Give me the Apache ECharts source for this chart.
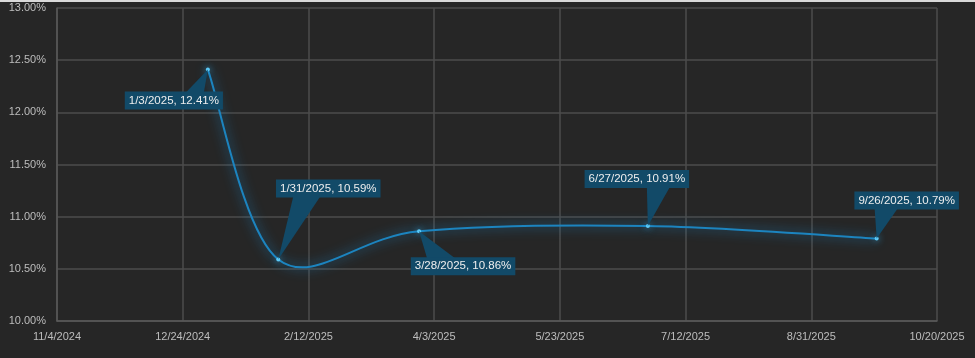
<!DOCTYPE html>
<html>
<head>
<meta charset="utf-8">
<style>
  html, body { margin: 0; padding: 0; background: #262626; }
  body { border-top: 2px solid #d9d9d9; box-sizing: border-box; }
  #chart { width: 975px; height: 356px; }
</style>
<script src="https://cdn.jsdelivr.net/npm/echarts@6/dist/echarts.min.js"></script>
</head>
<body>
<div id="chart"></div>
<script>
// ---- data ----
const dates = ['1/3/2025', '1/31/2025', '3/28/2025', '6/27/2025', '9/26/2025'];
const values = [12.41, 10.59, 10.86, 10.91, 10.79];
const xStart = '11/4/2024';
const xTickStepDays = 50;
const xEndDays = 350;
const yMin = 10, yMax = 13, yStep = 0.5;

// ---- callout styling (offsets in px relative to the point) ----
const calloutStyle = [
  { dx: -34, dy: 31, w0: -22, w1: -4 },
  { dx: 50, dy: -71, w0: 15, w1: 42 },
  { dx: 44, dy: 35, w0: 8, w1: 36 },
  { dx: -11, dy: -47, w0: -1, w1: 22 },
  { dx: 30, dy: -38, w0: -2, w1: 21 }
];

function parseMDY(s) {
  const [m, d, y] = s.split('/').map(Number);
  return Date.UTC(y, m - 1, d);
}
const DAY = 86400000;
const t0 = parseMDY(xStart);
function toDays(s) { return Math.round((parseMDY(s) - t0) / DAY); }
function fmtDay(v) {
  const dt = new Date(t0 + v * DAY);
  return (dt.getUTCMonth() + 1) + '/' + dt.getUTCDate() + '/' + dt.getUTCFullYear();
}

const points = dates.map((d, i) => [toDays(d), values[i]]);
const labels = dates.map((d, i) => d + ', ' + values[i].toFixed(2) + '%');

const chart = echarts.init(document.getElementById('chart'), null, { renderer: 'canvas' });
const FONT = '"Liberation Sans", Arial, sans-serif';
const BOX = '#124a68';
const H = 18;
const LINE = '#1c84bf';

chart.setOption({
  backgroundColor: '#262626',
  animation: false,
  grid: { left: 57, right: 38, top: 6, bottom: 37 },
  xAxis: {
    type: 'value',
    min: 0, max: xEndDays, interval: xTickStepDays,
    axisLine: { show: true, lineStyle: { color: '#595959', width: 1.5 } },
    axisTick: { show: false },
    splitLine: { show: true, lineStyle: { color: '#4d4d4d', width: 1.5 } },
    axisLabel: { color: '#bdbdbd', fontSize: 11, fontFamily: FONT, margin: 10, formatter: v => fmtDay(v), showMaxLabel: true, showMinLabel: true }
  },
  yAxis: {
    type: 'value',
    min: yMin, max: yMax, interval: yStep,
    axisLine: { show: true, lineStyle: { color: '#595959', width: 1.5 } },
    axisTick: { show: false },
    splitLine: { show: true, lineStyle: { color: '#4d4d4d', width: 1.5 } },
    axisLabel: { color: '#bdbdbd', fontSize: 11, fontFamily: FONT, margin: 11, formatter: v => v.toFixed(2) + '%' }
  },
  series: [
    {
      // smoothed curve (Catmull-Rom style Bezier through the data points, via axis coords)
      type: 'custom',
      data: points,
      z: 2,
      renderItem: function (params, api) {
        if (params.dataIndex !== 0) return null;
        const P = points.map(p => api.coord(p));
        const n = P.length;
        const children = [];
        for (let i = 0; i < n - 1; i++) {
          const p0 = P[Math.max(i - 1, 0)], p1 = P[i], p2 = P[i + 1], p3 = P[Math.min(i + 2, n - 1)];
          children.push({
            type: 'bezierCurve',
            shape: {
              x1: p1[0], y1: p1[1], x2: p2[0], y2: p2[1],
              cpx1: p1[0] + (p2[0] - p0[0]) / 6, cpy1: p1[1] + (p2[1] - p0[1]) / 6,
              cpx2: p2[0] - (p3[0] - p1[0]) / 6, cpy2: p2[1] - (p3[1] - p1[1]) / 6
            },
            style: { stroke: LINE, lineWidth: 2, fill: null, shadowBlur: 12, shadowColor: 'rgba(25,150,225,0.9)' }
          });
        }
        return { type: 'group', children: children };
      }
    },
    {
      type: 'line',
      data: points,
      symbol: 'circle',
      symbolSize: 4,
      lineStyle: { width: 0, opacity: 0 },
      itemStyle: { color: '#5ccaf7', shadowBlur: 6, shadowColor: 'rgba(60,190,255,0.9)' },
      z: 3
    },
    {
      type: 'custom',
      data: points.map((p, i) => [p[0], p[1], i]),
      z: 5,
      renderItem: function (params, api) {
        const i = api.value(2);
        const pt = api.coord([api.value(0), api.value(1)]);
        const c = calloutStyle[i];
        const cx = pt[0] + c.dx, cy = pt[1] + c.dy;
        const edgeY = c.dy > 0 ? cy - H / 2 + 1 : cy + H / 2 - 1;
        return {
          type: 'group',
          children: [
            {
              type: 'polygon',
              shape: { points: [[pt[0], pt[1]], [pt[0] + c.w0, edgeY], [pt[0] + c.w1, edgeY]] },
              style: { fill: BOX }
            },
            {
              type: 'text',
              x: cx, y: cy,
              style: {
                text: labels[i],
                fill: '#eeeeee',
                font: '11.5px ' + FONT,
                align: 'center',
                verticalAlign: 'middle',
                backgroundColor: BOX,
                padding: [3, 4, 3, 4]
              }
            }
          ]
        };
      }
    }
  ]
});
</script>
</body>
</html>
